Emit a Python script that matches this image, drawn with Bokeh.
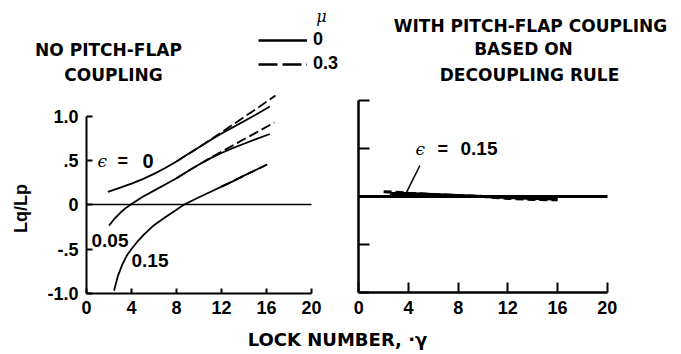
import math
from bokeh.plotting import figure
from bokeh.models import Label, Legend, LegendItem, FixedTicker, LinearAxis, Range1d
from bokeh.embed import file_html
from bokeh.resources import INLINE

# ---------------- data ----------------
x_ticks = [0, 4, 8, 12, 16, 20]
y_ticks = [-1.0, -0.5, 0.0, 0.5, 1.0]
y_tick_labels = ["-1.0", "-.5", "0", ".5", "1.0"]

# left panel: no pitch-flap coupling (mu = 0 solid, mu = 0.3 dashed)
g_e0_mu0 = [1.9, 3, 4, 5, 6, 7, 8, 9, 10, 11, 12, 13, 14, 15, 16.3]
v_e0_mu0 = [0.145, 0.195, 0.24, 0.29, 0.35, 0.415, 0.49, 0.57, 0.65, 0.73, 0.805, 0.875, 0.945, 1.015, 1.11]
g_e0_mu3 = [8, 9, 10, 11, 12, 13, 14, 15, 16.8]
v_e0_mu3 = [0.49, 0.57, 0.65, 0.735, 0.82, 0.905, 0.99, 1.075, 1.236]

g_e05_mu0 = [2.0, 2.5, 3, 3.5, 4, 5, 6, 7, 8, 9, 10, 11, 12, 13, 14, 15, 16.3]
v_e05_mu0 = [-0.235, -0.155, -0.09, -0.035, 0.01, 0.09, 0.16, 0.23, 0.30, 0.38, 0.455, 0.525, 0.585, 0.64, 0.69, 0.74, 0.80]
g_e05_mu3 = [8, 9, 10, 11, 12, 13, 14, 15, 16.7]
v_e05_mu3 = [0.30, 0.38, 0.455, 0.53, 0.60, 0.67, 0.74, 0.81, 0.93]

g_e15_mu0 = [2.45, 2.8, 3.2, 3.6, 4, 4.5, 5, 5.5, 6, 7, 8, 8.65, 10, 11, 12, 13, 14, 15, 16.05]
v_e15_mu0 = [-0.97, -0.8, -0.67, -0.57, -0.5, -0.42, -0.35, -0.29, -0.23, -0.14, -0.055, 0.0, 0.085, 0.145, 0.205, 0.265, 0.33, 0.39, 0.455]
g_e15_mu3 = [12, 13, 14, 15, 16.05]
v_e15_mu3 = [0.205, 0.265, 0.33, 0.39, 0.455]

# right panel: with pitch-flap coupling (decoupling rule), eps = 0.15
g_r_mu0 = [2.5, 4, 6, 8, 10, 12, 14, 16]
v_r_mu0 = [0.03, 0.03, 0.02, 0.01, 0.0, -0.01, -0.02, -0.025]
g_r_mu3 = [2, 3, 4, 6, 8, 10, 12, 14, 16]
v_r_mu3 = [0.05, 0.045, 0.035, 0.02, 0.01, 0.0, -0.02, -0.03, -0.035]
pointer_g = [4.92, 3.78]
pointer_v = [0.323, 0.028]

legend_labels = ["0", "0.3"]

NUM_FONT = "Liberation Sans"
TXT_FONT = "DejaVu Sans"
W, H = 681, 354

# one canvas; default ranges are page pixels (y downward), panels use extra ranges
p = figure(width=W, height=H, x_range=Range1d(0, W), y_range=Range1d(H, 0),
           min_border=0, min_border_left=0, min_border_right=0, min_border_top=0,
           min_border_bottom=0, x_axis_type=None, y_axis_type=None,
           toolbar_location=None, output_backend="svg", title=None)
p.outline_line_color = None

# left panel scales: gamma 0 -> px 86, 20 -> px 311 ; Lq/Lp 0 -> px 204.3, 1 unit = 88.5 px
lx0, lsx, ly0, lsy = 86.0, 11.25, 204.3, 88.5
# right panel scales: gamma 0 -> px 358.3, 20 -> px 606.7 ; 0 -> px 196, 1 unit = 96 px
rx0, rsx, ry0, rsy = 358.3, 12.42, 196.0, 96.0
p.extra_x_ranges = {
    "xl": Range1d(-lx0 / lsx, (W - lx0) / lsx),
    "xr": Range1d(-rx0 / rsx, (W - rx0) / rsx),
}
p.extra_y_ranges = {
    "yl": Range1d(-(H - ly0) / lsy, ly0 / lsy),
    "yr": Range1d(-(H - ry0) / rsy, ry0 / rsy),
}


def make_axis(xr, yr, loc, side, tick_in, lw, ticks, overrides=None, bounds=None):
    ax = LinearAxis(x_range_name=xr, y_range_name=yr, fixed_location=loc)
    ax.ticker = FixedTicker(ticks=ticks)
    if bounds is not None:
        ax.bounds = bounds
    ax.axis_line_width = lw
    ax.axis_line_color = "black"
    ax.major_tick_in = tick_in
    ax.major_tick_out = 0
    ax.major_tick_line_width = 2
    ax.minor_tick_line_color = None
    ax.major_label_text_font = NUM_FONT
    ax.major_label_text_font_style = "bold"
    ax.major_label_text_font_size = "18px"
    ax.major_label_text_color = "black"
    ax.major_label_standoff = 8
    if overrides is not None:
        ax.major_label_overrides = overrides
    p.add_layout(ax, side)
    return ax


ylab = {t: s for t, s in zip(y_ticks, y_tick_labels)}
blank = {t: "" for t in y_ticks}
# left panel axes
make_axis("xl", "yl", 0, "left", 6, 2, y_ticks, ylab, (-1, 1))
make_axis("xl", "yl", -1, "below", 5, 2, x_ticks, None, (0, 20))
make_axis("xl", "yl", 0, "below", 0, 1.5, [], None, (0, 20))        # zero line
# right panel axes
make_axis("xr", "yr", 0, "left", 11, 2.5, y_ticks, blank, (-1, 1))
make_axis("xr", "yr", -1, "below", 10, 2.5, x_ticks, None, (0, 20))
make_axis("xr", "yr", 0, "below", 0, 3, [], None, (0, 20))          # zero line

lw = 1.8
L = dict(x_range_name="xl", y_range_name="yl", color="black")
p.line(g_e0_mu0, v_e0_mu0, line_width=lw, **L)
p.line(g_e0_mu3, v_e0_mu3, line_width=lw, line_dash="10 4", **L)
p.line(g_e05_mu0, v_e05_mu0, line_width=lw, **L)
p.line(g_e05_mu3, v_e05_mu3, line_width=lw, line_dash="10 4", **L)
p.line(g_e15_mu0, v_e15_mu0, line_width=lw, **L)
p.line(g_e15_mu3, v_e15_mu3, line_width=lw, line_dash="10 4", **L)

R = dict(x_range_name="xr", y_range_name="yr", color="black")
p.line(g_r_mu0, v_r_mu0, line_width=3, **R)
p.line(g_r_mu3, v_r_mu3, line_width=3, line_dash="8 4", **R)
p.line(pointer_g, pointer_v, line_width=1.5, **R)

# legend keys (styled like the printed key; a single NaN point draws nothing on the plot)
nan = float("nan")
k0 = p.line(x=[nan], y=[nan], line_width=2.6, **L)
k3 = p.line(x=[nan], y=[nan], line_width=2.6, line_dash="19 5", **L)
legend = Legend(items=[LegendItem(label=legend_labels[0], renderers=[k0]),
                       LegendItem(label=legend_labels[1], renderers=[k3])],
                location=(258, H - 74), glyph_width=49, glyph_height=20, label_height=20,
                label_standoff=6, spacing=3, padding=0, margin=0,
                border_line_color=None, background_fill_alpha=0,
                label_text_font=NUM_FONT, label_text_font_style="bold",
                label_text_font_size="18px", label_text_color="black")
p.add_layout(legend)


def txt(x, y, s, size="17px", font=TXT_FONT, style="bold", align="center", angle=0.0):
    p.add_layout(Label(x=x, y=y, text=s, text_font=font, text_font_style=style,
                       text_font_size=size, text_align=align, text_baseline="middle",
                       text_color="black", angle=angle))


# titles (page pixel positions)
txt(108, 49, "NO PITCH-FLAP")
txt(113, 74, "COUPLING")
txt(321, 16, "\u03bc", size="16px", font="DejaVu Serif", style="italic")
txt(530, 25, "WITH PITCH-FLAP COUPLING")
txt(523, 48, "BASED ON")
txt(529, 74, "DECOUPLING RULE")

# curve annotations
txt(97, 160, "\u03f5", size="17px", font="DejaVu Serif", style="italic", align="left")
txt(117, 160, "=", size="18px", font=NUM_FONT, align="left")
txt(142, 160, "0", size="20px", font=NUM_FONT, align="left")
txt(91, 240, "0.05", size="19px", font=NUM_FONT, align="left")
txt(131, 260, "0.15", size="19px", font=NUM_FONT, align="left")
txt(415, 148, "\u03f5", size="17px", font="DejaVu Serif", style="italic", align="left")
txt(437, 148, "=", size="18px", font=NUM_FONT, align="left")
txt(460, 148, "0.15", size="19px", font=NUM_FONT, align="left")

# axis titles
txt(20, 208, "Lq/Lp", size="18px", font=NUM_FONT, angle=math.pi / 2)
txt(337, 339, "LOCK NUMBER, \u00b7\u03b3", size="18px")

open("out.html", "w").write(file_html(p, INLINE))
